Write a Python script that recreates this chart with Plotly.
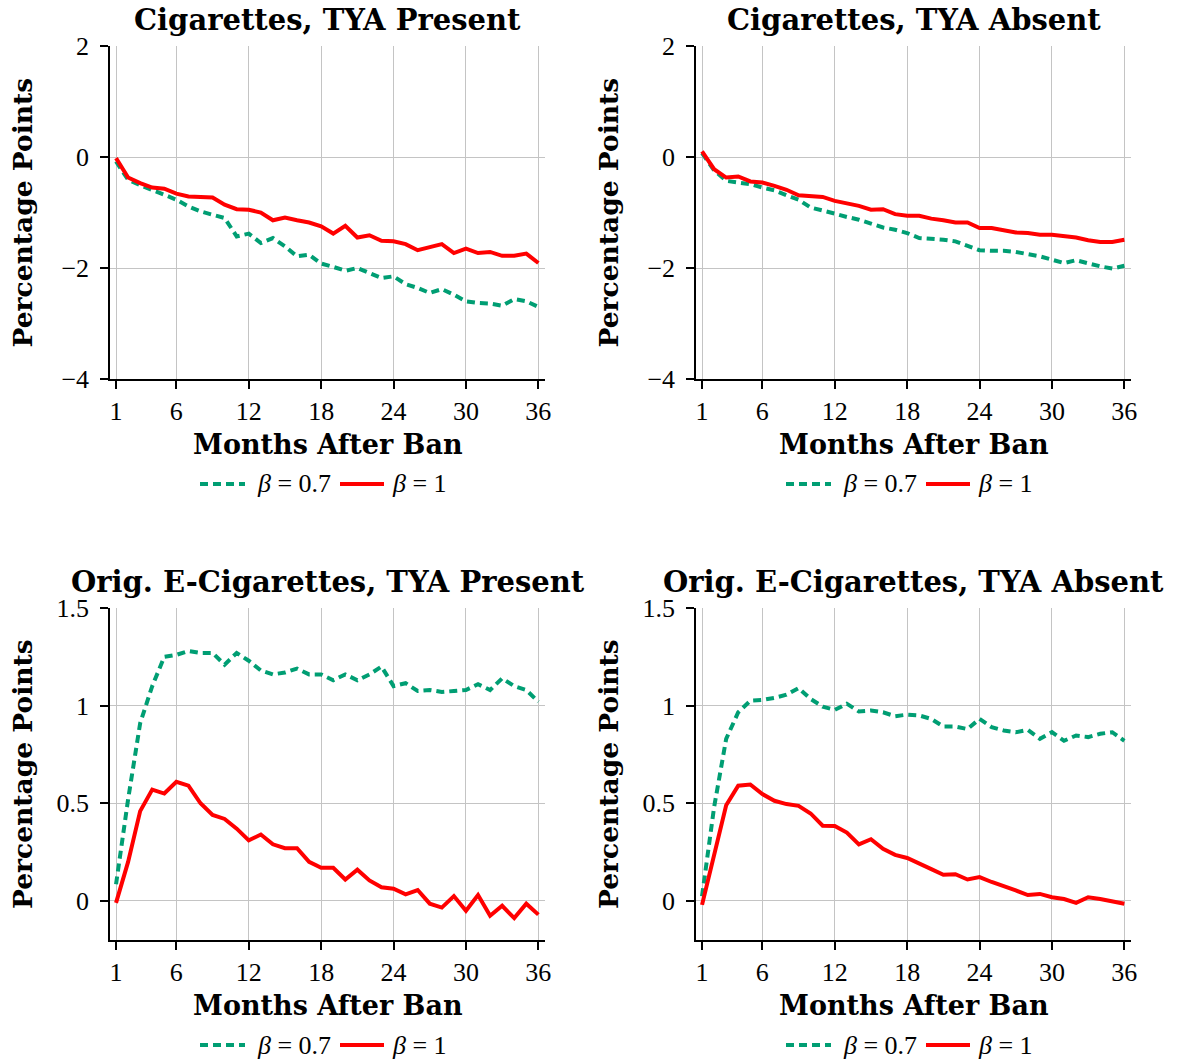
import plotly.graph_objects as go

# ---- data -------------------------------------------------------------
months = list(range(1, 37))

cig_present_b07 = [-0.08, -0.41, -0.51, -0.59, -0.68, -0.77, -0.89, -0.98, -1.04, -1.10,
                   -1.43, -1.38, -1.55, -1.46, -1.61, -1.79, -1.76, -1.92, -1.98, -2.05,
                   -2.00, -2.09, -2.18, -2.15, -2.29, -2.36, -2.45, -2.38, -2.48, -2.60,
                   -2.63, -2.64, -2.68, -2.56, -2.60, -2.70]
cig_present_b1 = [-0.02, -0.37, -0.47, -0.55, -0.57, -0.66, -0.71, -0.72, -0.73, -0.86,
                  -0.94, -0.95, -1.00, -1.14, -1.09, -1.14, -1.18, -1.25, -1.38, -1.24,
                  -1.45, -1.41, -1.51, -1.52, -1.57, -1.68, -1.63, -1.57, -1.73, -1.65,
                  -1.73, -1.71, -1.78, -1.78, -1.74, -1.91]

cig_absent_b07 = [0.07, -0.24, -0.43, -0.46, -0.49, -0.55, -0.60, -0.69, -0.77, -0.91,
                  -0.96, -1.02, -1.08, -1.13, -1.20, -1.27, -1.31, -1.37, -1.46, -1.47,
                  -1.49, -1.52, -1.60, -1.68, -1.69, -1.69, -1.71, -1.75, -1.79, -1.85,
                  -1.91, -1.86, -1.92, -1.97, -2.01, -1.96]
cig_absent_b1 = [0.10, -0.22, -0.37, -0.35, -0.44, -0.46, -0.52, -0.59, -0.69, -0.70,
                 -0.72, -0.79, -0.83, -0.88, -0.95, -0.94, -1.03, -1.06, -1.06, -1.11,
                 -1.14, -1.18, -1.18, -1.28, -1.28, -1.32, -1.36, -1.37, -1.40, -1.40,
                 -1.42, -1.45, -1.50, -1.53, -1.53, -1.49]

ecig_present_b07 = [0.085, 0.52, 0.91, 1.10, 1.25, 1.26, 1.28, 1.27, 1.27, 1.21,
                    1.27, 1.23, 1.18, 1.16, 1.17, 1.19, 1.16, 1.16, 1.13, 1.16,
                    1.13, 1.16, 1.20, 1.10, 1.115, 1.075, 1.08, 1.07, 1.075, 1.08,
                    1.11, 1.08, 1.14, 1.10, 1.08, 1.02]
ecig_present_b1 = [-0.01, 0.20, 0.46, 0.57, 0.55, 0.61, 0.59, 0.50, 0.44, 0.42,
                   0.37, 0.31, 0.34, 0.29, 0.27, 0.27, 0.20, 0.17, 0.17, 0.11,
                   0.16, 0.105, 0.07, 0.063, 0.034, 0.056, -0.014, -0.034, 0.025, -0.05,
                   0.03, -0.076, -0.025, -0.088, -0.014, -0.07]

ecig_absent_b07 = [0.024, 0.48, 0.83, 0.966, 1.025, 1.029, 1.04, 1.056, 1.09, 1.034,
                   0.995, 0.978, 1.01, 0.97, 0.975, 0.966, 0.946, 0.954, 0.95, 0.932,
                   0.893, 0.893, 0.88, 0.932, 0.89, 0.873, 0.864, 0.876, 0.83, 0.864,
                   0.82, 0.847, 0.839, 0.856, 0.864, 0.82]
ecig_absent_b1 = [-0.02, 0.236, 0.49, 0.59, 0.596, 0.547, 0.513, 0.496, 0.487, 0.448,
                  0.385, 0.384, 0.35, 0.29, 0.316, 0.267, 0.236, 0.22, 0.194, 0.163,
                  0.134, 0.137, 0.11, 0.122, 0.097, 0.078, 0.054, 0.03, 0.036, 0.019,
                  0.01, -0.01, 0.019, 0.01, -0.002, -0.014]

panel_titles = ["Cigarettes, TYA Present", "Cigarettes, TYA Absent",
                "Orig. E-Cigarettes, TYA Present", "Orig. E-Cigarettes, TYA Absent"]
series_b07 = [cig_present_b07, cig_absent_b07, ecig_present_b07, ecig_absent_b07]
series_b1 = [cig_present_b1, cig_absent_b1, ecig_present_b1, ecig_absent_b1]

x_ticks = [1, 6, 12, 18, 24, 30, 36]
y_ticks_cig = [-4, -2, 0, 2]
y_ticks_ecig = [0, 0.5, 1, 1.5]
y_range_cig = [-4, 2]
y_range_ecig = [-0.2, 1.5]

legend_labels = ["<i>β</i> = 0.7", "<i>β</i> = 1"]

# ---- styling ----------------------------------------------------------
W, H = 1180, 1059
GREEN = "#009E73"
RED = "#FF0000"
GRID = "#c4c4c4"
SERIF = "Liberation Serif"
BOLD_SERIF = "DejaVu Serif"


def px_x(p):
    return p / W


def px_y(p):
    return 1 - p / H


# plot boxes in pixels: (left, right, top, bottom)
boxes = [(110, 545, 46, 379), (696, 1131, 46, 379),
         (110, 545, 608, 940), (696, 1131, 608, 940)]

fig = go.Figure()
annotations = []
shapes = []

for i in range(4):
    n = i + 1
    xa = "x" if n == 1 else f"x{n}"
    ya = "y" if n == 1 else f"y{n}"
    fig.add_trace(go.Scatter(x=months, y=series_b07[i], mode="lines",
                             line=dict(color=GREEN, width=4, dash="8px,5px"),
                             xaxis=xa, yaxis=ya, showlegend=False))
    fig.add_trace(go.Scatter(x=months, y=series_b1[i], mode="lines",
                             line=dict(color=RED, width=4),
                             xaxis=xa, yaxis=ya, showlegend=False))

    l, r, t, b = boxes[i]
    is_cig = i < 2
    axis_common = dict(showgrid=True, gridcolor=GRID, gridwidth=1, zeroline=False,
                       showline=True, linecolor="black", linewidth=1.5, automargin=False,
                       ticks="outside", ticklen=8, tickwidth=1.5, tickcolor="black",
                       tickfont=dict(family=SERIF, size=26, color="black"))
    fig.layout[f"xaxis{'' if n == 1 else n}"] = dict(
        domain=[px_x(l), px_x(r)], anchor=ya, range=[0.5, 36.55],
        tickvals=x_ticks, ticklabelstandoff=0, **axis_common)
    fig.layout[f"yaxis{'' if n == 1 else n}"] = dict(
        domain=[px_y(b), px_y(t)], anchor=xa,
        range=y_range_cig if is_cig else y_range_ecig,
        tickvals=y_ticks_cig if is_cig else y_ticks_ecig,
        ticklabelstandoff=6, **axis_common)

    cx = (l + r) / 2
    cy = (t + b) / 2
    # panel title
    annotations.append(dict(text=panel_titles[i], x=px_x(cx), y=px_y(t - 26),
                            xref="paper", yref="paper", showarrow=False,
                            xanchor="center", yanchor="middle",
                            font=dict(family=BOLD_SERIF, size=29, color="black", weight="bold")))
    # x axis title
    annotations.append(dict(text="Months After Ban", x=px_x(cx), y=px_y(b + 65),
                            xref="paper", yref="paper", showarrow=False,
                            xanchor="center", yanchor="middle",
                            font=dict(family=BOLD_SERIF, size=27, color="black", weight="bold")))
    # y axis title
    annotations.append(dict(text="Percentage Points", x=px_x(l - 88), y=px_y(cy),
                            xref="paper", yref="paper", showarrow=False, textangle=-90,
                            xanchor="center", yanchor="middle",
                            font=dict(family=BOLD_SERIF, size=26.5, color="black", weight="bold")))
    # legend row under each panel
    ly = b + 105
    dx = l - 110
    shapes.append(dict(type="line", xref="paper", yref="paper",
                       x0=px_x(200 + dx), x1=px_x(245 + dx), y0=px_y(ly), y1=px_y(ly),
                       line=dict(color=GREEN, width=4, dash="8px,5px")))
    shapes.append(dict(type="line", xref="paper", yref="paper",
                       x0=px_x(340 + dx), x1=px_x(384 + dx), y0=px_y(ly), y1=px_y(ly),
                       line=dict(color=RED, width=4)))
    annotations.append(dict(text=legend_labels[0], x=px_x(255 + dx), y=px_y(ly),
                            xref="paper", yref="paper", showarrow=False,
                            xanchor="left", yanchor="middle",
                            font=dict(family=SERIF, size=26, color="black")))
    annotations.append(dict(text=legend_labels[1], x=px_x(390 + dx), y=px_y(ly),
                            xref="paper", yref="paper", showarrow=False,
                            xanchor="left", yanchor="middle",
                            font=dict(family=SERIF, size=26, color="black")))

fig.update_layout(template="none", width=W, height=H, margin=dict(l=0, r=0, t=0, b=0),
                  paper_bgcolor="white", plot_bgcolor="white",
                  showlegend=False, annotations=annotations, shapes=shapes)

fig.write_html("out.html")
